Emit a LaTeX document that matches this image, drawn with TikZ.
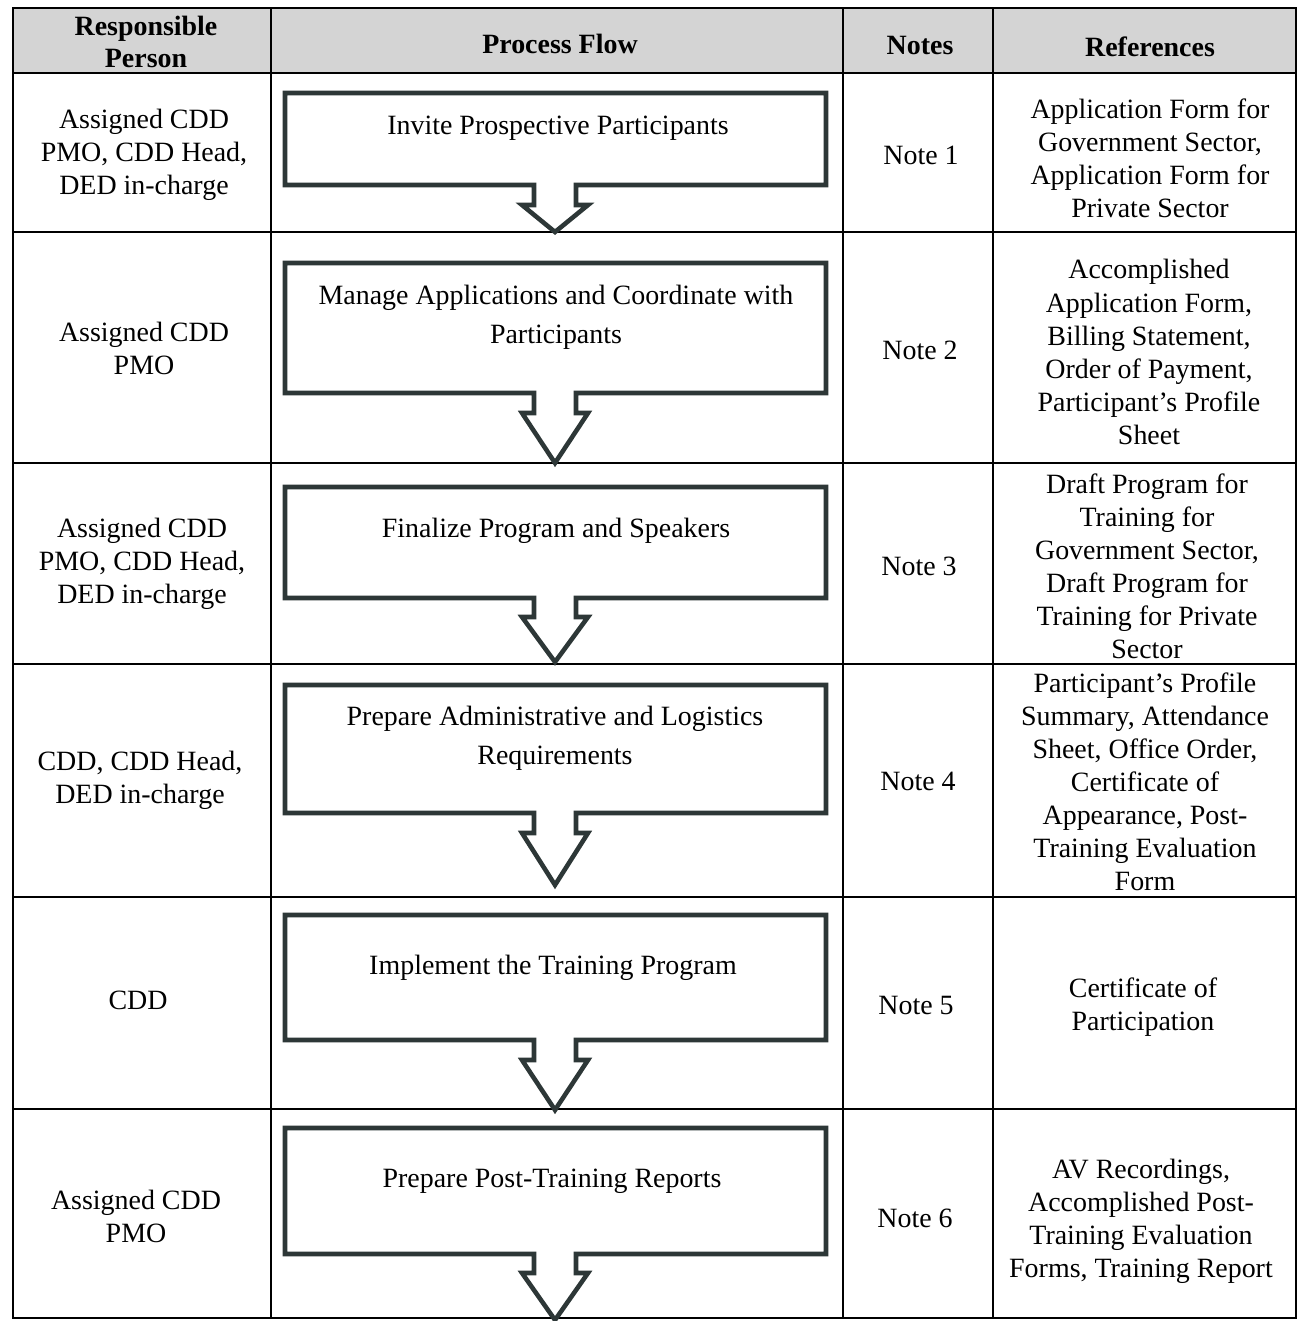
\documentclass[tikz,border=0pt]{standalone}
\usepackage{fontspec}
\setmainfont{Liberation Serif}
\usetikzlibrary{positioning}
\definecolor{headgray}{RGB}{212,212,212}
\definecolor{boxline}{RGB}{45,55,55}
\tikzset{cell/.style={align=center, inner sep=0, font=\fontsize{15.9}{18.8}\selectfont}}
\tikzset{head/.style={cell, font=\fontsize{15.9}{18.2}\selectfont\bfseries}}
\tikzset{flowtext/.style={cell, font=\fontsize{15.9}{22.2}\selectfont}}
\tikzset{flowbox/.style={draw=boxline, line width=2.6pt, fill=white, line join=miter}}
\tikzset{rule/.style={draw=black, line width=1.1pt}}
% box with its arrow: top, bottom, stem end, tip
\newcommand{\procarrow}[4]{%
  \draw[flowbox] (285,#1) -- (826,#1) -- (826,#2) -- (576,#2) -- (576,#3)
    -- (588,#3) -- (555,#4) -- (522,#3) -- (534,#3) -- (534,#2)
    -- (285,#2) -- cycle;}

\begin{document}
\begin{tikzpicture}[x=0.02cm, y=-0.02cm]
  \useasboundingbox (0,0) rectangle (1302,1321);

  % table
  \fill[headgray] (13,8) rectangle (1296,73);
  \draw[rule] (13,8) rectangle (1296,1318);
  \foreach \y in {73,232,463,664,897,1109}
    \draw[rule] (13,\y) -- (1296,\y);
  \foreach \x in {271,843,993}
    \draw[rule] (\x,8) -- (\x,1318);

  % header
  \node[head] (hperson) at (146,42) {Responsible\\Person};
  \node[head] (hflow) at (560,44) {Process Flow};
  \node[head] (hnotes) at (920,45) {Notes};
  \node[head] (hrefs) at (1150,47) {References};

  % process flow
  \procarrow{93}{185}{205}{232}
  \procarrow{263}{393}{413}{463}
  \procarrow{487}{598}{617}{662}
  \procarrow{685}{813}{833}{885}
  \procarrow{915}{1040}{1060}{1110}
  \procarrow{1128}{1254}{1273}{1320}

  \node[flowtext] (step1) at (558,128) {Invite Prospective Participants};
  \node[flowtext] (step2) at (556,317) {Manage Applications and Coordinate with\\Participants};
  \node[flowtext] (step3) at (556,531) {Finalize Program and Speakers};
  \node[flowtext] (step4) at (555,738) {Prepare Administrative and Logistics\\Requirements};
  \node[flowtext] (step5) at (553,968) {Implement the Training Program};
  \node[flowtext] (step6) at (552,1181) {Prepare Post-Training Reports};

  % responsible person
  \node[cell] (who1) at (144,155) {Assigned CDD\\PMO, CDD Head,\\DED in-charge};
  \node[cell] (who2) at (144,348) {Assigned CDD\\PMO};
  \node[cell] (who3) at (142,564) {Assigned CDD\\PMO, CDD Head,\\DED in-charge};
  \node[cell] (who4) at (140,780) {CDD, CDD Head,\\DED in-charge};
  \node[cell] (who5) at (138,1000) {CDD};
  \node[cell] (who6) at (136,1216) {Assigned CDD\\PMO};

  % notes
  \node[cell] (note1) at (921,155) {Note 1};
  \node[cell] (note2) at (920,350) {Note 2};
  \node[cell] (note3) at (919,566) {Note 3};
  \node[cell] (note4) at (918,781) {Note 4};
  \node[cell] (note5) at (916,1005) {Note 5};
  \node[cell] (note6) at (915,1218) {Note 6};

  % references
  \node[cell] (ref1) at (1150,158) {Application Form for\\Government Sector,\\Application Form for\\Private Sector};
  \node[cell] (ref2) at (1149,352) {Accomplished\\Application Form,\\Billing Statement,\\Order of Payment,\\Participant’s Profile\\Sheet};
  \node[cell] (ref3) at (1147,566) {Draft Program for\\Training for\\Government Sector,\\Draft Program for\\Training for Private\\Sector};
  \node[cell] (ref4) at (1145,782) {Participant’s Profile\\Summary, Attendance\\Sheet, Office Order,\\Certificate of\\Appearance, Post-\\Training Evaluation\\Form};
  \node[cell] (ref5) at (1143,1007) {Certificate of\\Participation};
  \node[cell] (ref6) at (1141,1221) {AV Recordings,\\Accomplished Post-\\Training Evaluation\\Forms, Training Report};
\end{tikzpicture}
\end{document}
